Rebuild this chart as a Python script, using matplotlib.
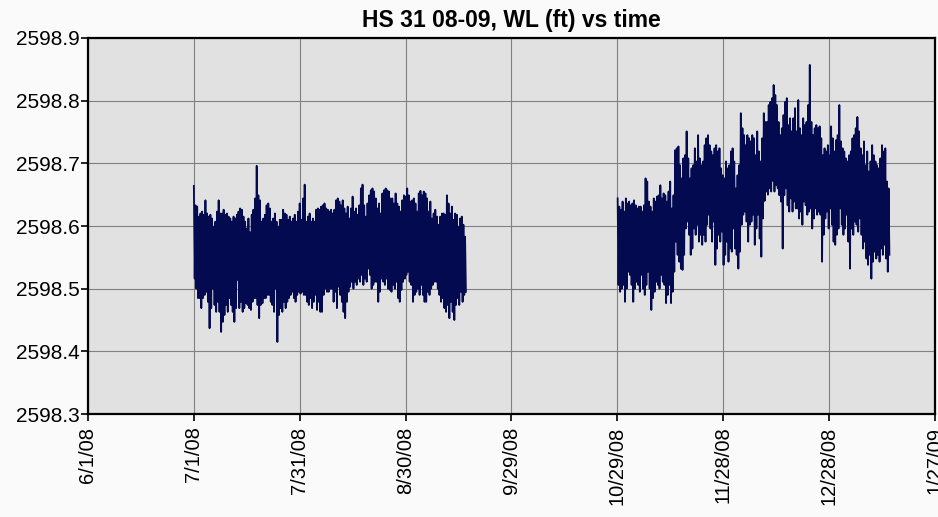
import numpy as np
import pandas as pd
import matplotlib
matplotlib.use('Agg')
import matplotlib.pyplot as plt

plt.rcParams['font.family'] = ['Liberation Sans', 'DejaVu Sans']

# water level readings, thousandths of a ft above 2598.0
# each segment alternates a high and low reading per sample step
BASE = 2598.0

seg1_start, seg1_end = '2008-07-01 00:00', '2008-09-16 02:00'
seg1_hi = [664, 633, 631, 615, 620, 623, 618, 641, 620, 615,
           618, 612, 599, 607, 623, 641, 620, 620, 626, 618,
           620, 615, 612, 607, 615, 612, 618, 623, 628, 626,
           615, 607, 596, 612, 590, 618, 626, 644, 696, 649,
           641, 607, 612, 618, 633, 636, 628, 607, 612, 620,
           607, 599, 610, 610, 626, 620, 618, 610, 615, 607,
           612, 618, 607, 623, 636, 610, 644, 666, 607, 615,
           620, 607, 612, 607, 626, 628, 626, 631, 633, 636,
           628, 626,
           623, 626, 620, 626, 641, 644, 639, 633, 641, 628,
           620, 631, 612, 628, 647, 623, 628, 618, 633, 660,
           666, 633, 615, 636, 649, 657, 660, 655, 644, 628,
           636, 620, 652, 657, 660, 657, 655, 644, 644, 636,
           652, 636, 631, 623, 641, 649, 647, 660, 649, 639,
           641, 644, 636, 623, 652, 656, 649, 655, 652, 644,
           623, 639, 612, 620, 626, 615, 602, 615, 620, 620,
           618, 649, 636, 620, 631, 610, 620, 618, 599, 612,
           615, 602, 583]
seg1_lo = [516, 500, 485, 485, 469, 485, 490, 495, 479, 437,
           469, 500, 474, 463, 479, 463, 431, 447, 458, 474,
           463, 485, 474, 463, 447, 469, 514, 469, 479, 463,
           469, 477, 474, 469, 466, 479, 485, 485, 474, 453,
           474, 477, 485, 485, 490, 490, 479, 474, 463, 500,
           415, 458, 469, 463, 479, 469, 479, 485, 490, 495,
           485, 479, 490, 495, 492, 495, 490, 490, 479, 474,
           485, 469, 479, 490, 466, 479, 463, 463, 490, 500,
           495, 495,
           500, 500, 479, 495, 469, 503, 490, 479, 463, 453,
           479, 495, 503, 511, 500, 511, 506, 516, 511, 522,
           506, 516, 511, 532, 522, 500, 506, 511, 511, 479,
           495, 516, 511, 506, 516, 500, 498, 495, 506, 500,
           511, 485, 479, 498, 511, 516, 522, 527, 511, 506,
           479, 490, 495, 500, 490, 506, 490, 479, 479, 495,
           490, 500, 506, 511, 511, 500, 490, 479, 485, 469,
           463, 474, 453, 479, 463, 450, 474, 485, 474, 495,
           479, 490, 495]

seg2_start, seg2_end = '2008-10-29 02:00', '2009-01-14 02:00'
seg2_hi = [644, 631, 626, 639, 623, 644, 636, 639, 633, 636,
           641, 633, 628, 631, 631, 623, 633, 676, 671, 639,
           631, 623, 644, 639, 647, 649, 665, 644, 652, 649,
           639, 655, 671, 628, 649, 721, 724, 727, 697, 676,
           708, 713, 751, 708, 676, 692, 697, 724, 703, 745,
           708, 697, 703, 729, 740, 745, 729, 719, 713, 724,
           729, 719, 724, 692, 681, 676, 703, 692, 697, 719,
           724, 703, 660, 681, 697, 780, 756, 745, 729, 745,
           740, 735,
           745, 740, 713, 751, 719, 703, 740, 780, 766, 766,
           793, 798, 804, 825, 809, 793, 766, 745, 756, 777,
           798, 804, 761, 772, 751, 772, 788, 751, 801, 756,
           745, 772, 761, 766, 793, 857, 766, 745, 756, 761,
           756, 759, 740, 713, 724, 719, 729, 713, 759, 740,
           719, 737, 745, 793, 735, 724, 719, 708, 703, 713,
           719, 740, 745, 756, 774, 751, 724, 713, 735, 697,
           719, 687, 703, 729, 713, 703, 697, 692, 708, 729,
           719, 724, 671, 660]
seg2_lo = [506, 495, 500, 506, 479, 500, 527, 522, 506, 479,
           500, 511, 506, 495, 522, 500, 490, 506, 527, 500,
           466, 485, 495, 511, 506, 500, 522, 511, 506, 477,
           490, 506, 477, 495, 527, 575, 554, 543, 532, 530,
           554, 596, 607, 586, 554, 564, 596, 586, 602, 575,
           586, 570, 586, 575, 602, 618, 596, 575, 607, 538,
           564, 586, 575, 591, 538, 554, 575, 543, 564, 559,
           596, 564, 554, 532, 559, 602, 618, 623, 607, 575,
           602, 607,
           618, 570, 596, 618, 580, 551, 612, 640, 655, 650,
           660, 655, 672, 655, 665, 660, 649, 639, 564, 649,
           660, 633, 623, 644, 623, 639, 628, 628, 612, 623,
           602, 639, 633, 618, 623, 628, 596, 612, 628, 618,
           623, 618, 543, 586, 612, 623, 596, 628, 602, 575,
           570, 586, 596, 628, 602, 586, 596, 618, 575, 532,
           596, 586, 607, 602, 591, 612, 586, 564, 575, 548,
           538, 554, 516, 543, 559, 548, 554, 543, 564, 554,
           570, 548, 527, 554]

tick_dates = ['2008-06-01', '2008-07-01', '2008-07-31', '2008-08-30', '2008-09-29',
              '2008-10-29', '2008-11-28', '2008-12-28', '2009-01-27']
tick_labels = ['6/1/08', '7/1/08', '7/31/08', '8/30/08', '9/29/08',
               '10/29/08', '11/28/08', '12/28/08', '1/27/09']
y_ticks = [2598.3, 2598.4, 2598.5, 2598.6, 2598.7, 2598.8, 2598.9]


def zigzag(start, end, hi, lo):
    n = len(hi)
    t = pd.date_range(start, end, periods=2 * n)
    y = np.empty(2 * n)
    y[0::2] = BASE + np.array(hi) / 1000.0
    y[1::2] = BASE + np.array(lo) / 1000.0
    return t, y


fig = plt.figure(figsize=(9.38, 5.17), dpi=100, facecolor='#fafafa')
ax = fig.add_axes([0.0938, 0.1992, 0.9030, 0.7273])
ax.set_facecolor('#e1e1e1')

line_color = '#030a50'
for s, e, hi, lo in [(seg1_start, seg1_end, seg1_hi, seg1_lo),
                     (seg2_start, seg2_end, seg2_hi, seg2_lo)]:
    t, y = zigzag(s, e, hi, lo)
    ax.plot(t, y, color=line_color, lw=1.3, zorder=3)

ticks = pd.to_datetime(tick_dates)
ax.set_xlim(ticks[0], ticks[-1])
ax.set_xticks(ticks)
ax.set_xticklabels(tick_labels, rotation=90, fontsize=14.5)
ax.set_ylim(2598.3, 2598.9)
ax.set_yticks(y_ticks)
ax.set_yticklabels(['%.1f' % v for v in y_ticks], fontsize=15)

ax.grid(True, color='#808080', lw=0.8, zorder=1)
ax.set_axisbelow(True)
ax.tick_params(axis='both', direction='out', length=5, width=1.2, colors='black')
ax.tick_params(axis='x', pad=4)
ax.tick_params(axis='y', pad=1)
for sp in ax.spines.values():
    sp.set_color('black')
    sp.set_linewidth(1.6)

ax.set_title('HS 31 08-09, WL (ft) vs time', fontsize=16.5, fontweight='bold', pad=8)

fig.savefig('out.png', dpi=100, facecolor=fig.get_facecolor())
